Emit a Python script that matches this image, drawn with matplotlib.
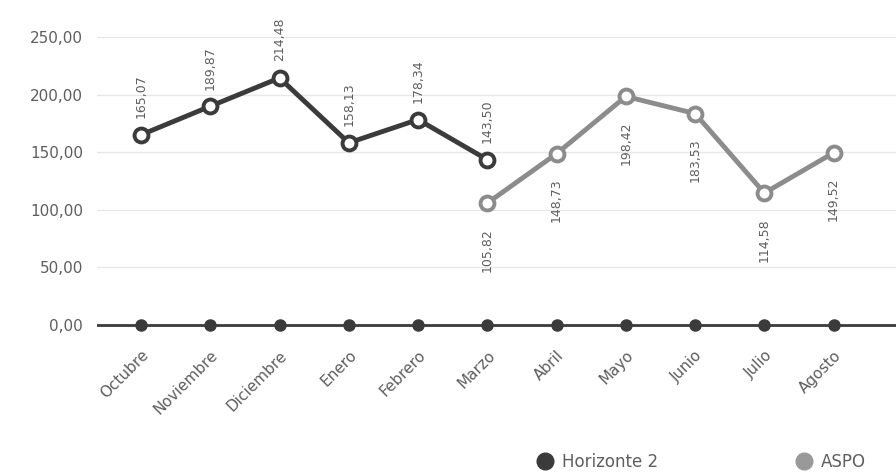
import matplotlib
matplotlib.use("Agg")
import matplotlib.pyplot as plt
from matplotlib.lines import Line2D

# ___________DATA_______________
months = ["Octubre", "Noviembre", "Diciembre", "Enero", "Febrero", "Marzo",
          "Abril", "Mayo", "Junio", "Julio", "Agosto"]
horizonte = [165.07, 189.87, 214.48, 158.13, 178.34, 143.50]
horizonte_labels = ["165,07", "189,87", "214,48", "158,13", "178,34", "143,50"]
aspo = [105.82, 148.73, 198.42, 183.53, 114.58, 149.52]
aspo_labels = ["105,82", "148,73", "198,42", "183,53", "114,58", "149,52"]
base = [0, 0, 0, 0, 0, 0, 0, 0, 0, 0, 0]
yticks = [0, 50, 100, 150, 200, 250]
ytick_labels = ["0,00", "50,00", "100,00", "150,00", "200,00", "250,00"]

dark = "#3b3b3b"
grey = "#8c8c8c"
text_c = "#5e5e5e"

fig = plt.figure(figsize=(8.96, 4.76), dpi=100)
ax = fig.add_axes([97 / 896, 1 - 336.5 / 476, 1 - 97 / 896, (336.5 - 14) / 476])

x_all = list(range(len(months)))
x_h = x_all[:len(horizonte)]
x_a = x_all[len(horizonte) - 1:len(horizonte) - 1 + len(aspo)]

# grid
for y in yticks[1:]:
    ax.axhline(y, color="#e8e8e8", lw=1, zorder=0)

# zero series
ax.axhline(0, color=dark, lw=2, zorder=1)
ax.plot(x_all, base, "o", color=dark, ms=8, zorder=2)

ax.plot(x_h, horizonte, color=dark, lw=3.5, marker="o", ms=10,
        mfc="white", mec=dark, mew=2.8, zorder=3)
ax.plot(x_a, aspo, color=grey, lw=3.5, marker="o", ms=10,
        mfc="white", mec=grey, mew=2.8, zorder=3)

for x, v, s in zip(x_h, horizonte, horizonte_labels):
    ax.annotate(s, (x, v), xytext=(0, 12), textcoords="offset points",
                rotation=90, ha="center", va="bottom", fontsize=9, color=text_c)
for x, v, s in zip(x_a, aspo, aspo_labels):
    ax.annotate(s, (x, v), xytext=(0, -18), textcoords="offset points",
                rotation=90, ha="center", va="top", fontsize=9, color=text_c)

ax.set_xlim(-0.635, 10.9)
ax.set_ylim(-10, 270)
ax.set_yticks(yticks)
ax.set_yticklabels(ytick_labels, color=text_c, fontsize=11)
ax.set_xticks(x_all)
ax.set_xticklabels(months, rotation=45, ha="right", rotation_mode="anchor",
                   color=text_c, fontsize=11)
ax.tick_params(axis="both", length=0)
ax.tick_params(axis="x", pad=8)
ax.tick_params(axis="y", pad=10)
for sp in ax.spines.values():
    sp.set_visible(False)

handles = [Line2D([], [], ls="", marker="o", ms=12, color=dark),
           Line2D([], [], ls="", marker="o", ms=12, color="#999999")]
fig.legend(handles, ["Horizonte 2", "ASPO"], loc="center left",
           bbox_to_anchor=(520 / 896, 1 - 462 / 476), ncol=2, frameon=False,
           fontsize=12, labelcolor=text_c, columnspacing=8.2,
           handletextpad=0.4, handlelength=1.2)

fig.savefig("out.png", dpi=100)
